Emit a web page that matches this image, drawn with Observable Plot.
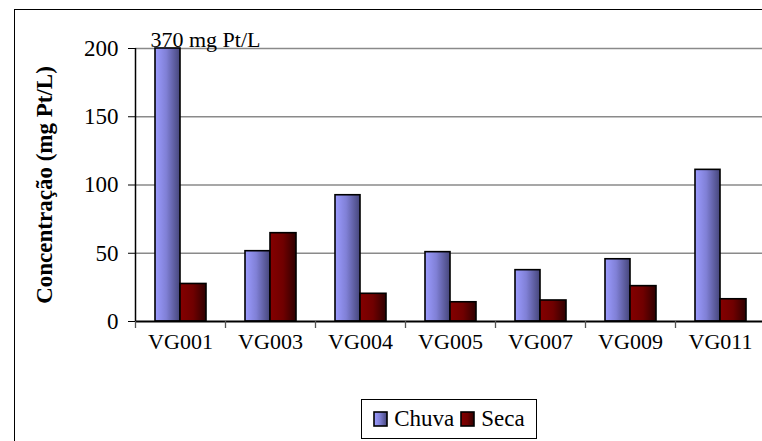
<!DOCTYPE html>
<html><head><meta charset="utf-8">
<script src="https://cdn.jsdelivr.net/npm/d3@7"></script>
<script src="https://cdn.jsdelivr.net/npm/@observablehq/plot@0.6"></script>
<style>
html,body{margin:0;padding:0;background:#fff;overflow:hidden;}
#wrap{position:relative;width:762px;height:441px;overflow:hidden;font-family:"Liberation Serif","Times New Roman",Times,"DejaVu Serif",serif;}
#border{position:absolute;left:14px;top:9px;width:820px;height:520px;border-left:1.5px solid #000;border-top:1.5px solid #000;}
#chart{position:absolute;left:0;top:0;}
#legend{position:absolute;left:361px;top:399px;width:176px;height:40px;box-sizing:border-box;border:1.3px solid #000;display:flex;align-items:center;justify-content:center;gap:0;font-size:23px;color:#000;}
#legend .item{display:flex;align-items:center;margin:0 3px;}
#legend svg{margin-right:6px;}
#chart svg text{font-family:"Liberation Serif","Times New Roman",Times,"DejaVu Serif",serif !important;}
</style>
</head><body>
<svg width="0" height="0" style="position:absolute">
  <defs>
    <linearGradient id="gChuva" x1="0" x2="1" y1="0" y2="0">
      <stop offset="0" stop-color="#9c9cff"/>
      <stop offset="0.45" stop-color="#8080d6"/>
      <stop offset="1" stop-color="#45457a"/>
    </linearGradient>
    <linearGradient id="gSeca" x1="0" x2="1" y1="0" y2="0">
      <stop offset="0" stop-color="#850000"/>
      <stop offset="0.5" stop-color="#700000"/>
      <stop offset="1" stop-color="#2e0000"/>
    </linearGradient>
  </defs>
</svg>
<div id="wrap">
  <div id="border"></div>
  <div id="chart"></div>
  <div id="legend"></div>
</div>
<script>
const categories = ["VG001", "VG003", "VG004", "VG005", "VG007", "VG009", "VG011"];
const chuva = [370, 51.5, 92.5, 50.8, 37.6, 45.6, 111.1];
const seca = [27.5, 64.7, 20.3, 14.1, 15.4, 25.9, 16.3];
const seriesNames = ["Chuva", "Seca"];
const yTicks = [0, 50, 100, 150, 200];
const yLabel = "Concentração (mg Pt/L)";
const annotation = `${chuva[0]} mg Pt/L`;

const rowsChuva = categories.map((c, i) => ({cat: c, v: chuva[i]}));
const rowsSeca = categories.map((c, i) => ({cat: c, v: seca[i]}));

const plot = Plot.plot({
  width: 762,
  height: 390,
  marginLeft: 135,
  marginRight: 0,
  marginTop: 48,
  marginBottom: 69,
  style: {fontSize: "20px", color: "#000", background: "transparent"},
  x: {domain: categories, range: [135, 765], padding: 0},
  y: {domain: [0, 200], clamp: true},
  marks: [
    Plot.gridY(yTicks.slice(1), {stroke: "#8a8a8a", strokeOpacity: 1, strokeWidth: 1.4}),
    Plot.barY(rowsChuva, {x: "cat", y: "v", insetLeft: 20, insetRight: 45, fill: "url(#gChuva)", stroke: "#000", strokeWidth: 1.6}),
    Plot.barY(rowsSeca, {x: "cat", y: "v", insetLeft: 45, insetRight: 19, fill: "url(#gSeca)", stroke: "#000", strokeWidth: 1.6}),
    Plot.ruleY([0], {stroke: "#000", strokeWidth: 2}),
    Plot.ruleX([categories[0]], {x: d => d, y1: 0, y2: 200, dx: -45, stroke: "#000", strokeWidth: 1.5}),
    Plot.ruleX(categories, {x: d => d, y1: 0, y2: 0, dx: -45, insetBottom: -7, stroke: "#555", strokeWidth: 1.3}),
    Plot.axisY({ticks: yTicks, tickSize: 7, tickPadding: 10, fontSize: 23, label: null, stroke: "#000"}),
    Plot.axisX({tickSize: 0, tickPadding: 12, fontSize: 22, label: null}),
    Plot.text([yLabel], {frameAnchor: "left", rotate: -90, dx: -91, fontSize: 23, fontWeight: "bold", textAnchor: "middle", lineAnchor: "middle"}),
    Plot.text([{cat: categories[0], v: 200, t: annotation}], {x: "cat", y: "v", text: "t", textAnchor: "start", lineAnchor: "bottom", dx: -30, dy: -2, fontSize: 22})
  ]
});
document.getElementById("chart").appendChild(plot);

const legend = document.getElementById("legend");
const grads = {Chuva: "gChuva", Seca: "gSeca"};
seriesNames.forEach(name => {
  const item = document.createElement("div");
  item.className = "item";
  item.innerHTML = `<svg width="15" height="16"><rect x="1" y="1" width="13" height="14" fill="url(#${grads[name]})" stroke="#000" stroke-width="1.6"/></svg><span>${name}</span>`;
  legend.appendChild(item);
});
</script>
</body></html>
